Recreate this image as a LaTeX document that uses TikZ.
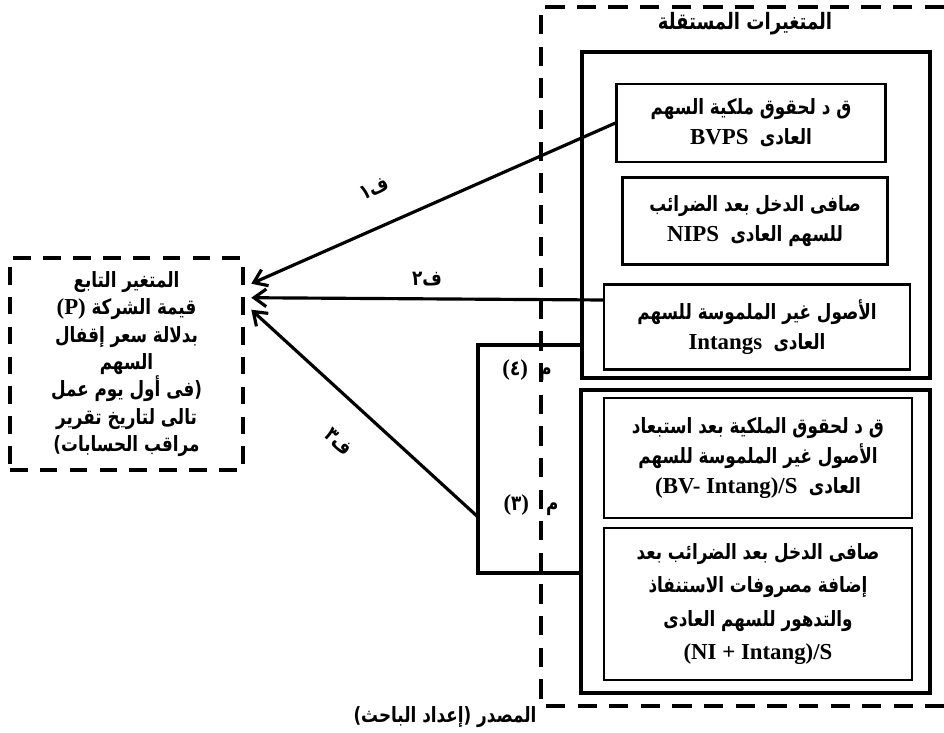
\documentclass[tikz,border=0pt]{standalone}
\usepackage{fontspec}
\setmainfont{Liberation Serif}
\newfontfamily\arabicfont[Script=Arabic, Scale=0.92, FakeStretch=0.8]{DejaVu Sans}
\TeXXeTstate=1
\usetikzlibrary{arrows.meta}
\newcommand{\artxt}[1]{{\arabicfont\beginR #1\endR}}

\begin{document}
\begin{tikzpicture}[
            x=0.02cm, y=-0.02cm,
            every node/.style={font=\bfseries\fontsize{13}{17}\selectfont},
            var box/.style={draw, line width=1.2pt, align=center, inner sep=0pt},
            group box/.style={draw, line width=2.2pt, inner sep=0pt},
            dep box/.style={draw, line width=2.6pt, dash pattern=on 10pt off 7pt, align=center,
                            inner sep=0pt, font=\bfseries\fontsize{13}{15.6}\selectfont},
            frame line/.style={line width=2.6pt, dash pattern=on 11pt off 7pt},
            link/.style={line width=1.8pt, -{Straight Barb[length=7pt,width=10pt]}},
            bracket line/.style={line width=1.8pt},
            ]
            \def\px{0.02cm}
            \useasboundingbox (0,0) rectangle (944,733);

            \draw[frame line] (944,7) -- (541,7) -- (541,706) -- (944,706);
            \node (title) at (745,24) {\fontsize{14}{17}\selectfont\artxt{المتغيرات المستقلة}};

            \node[group box, minimum width=348*\px, minimum height=326*\px] (groupA) at (756,215) {};
            \node[group box, minimum width=349*\px, minimum height=303*\px] (groupB) at (755.5,541.5) {};

            \node[var box, minimum width=269*\px, minimum height=78*\px] (bvps) at (751,123)
                {\artxt{ق د لحقوق ملكية السهم}\\ BVPS~~\artxt{العادى}};
            \node[var box, minimum width=265*\px, minimum height=87*\px] (nips) at (755,221)
                {\artxt{صافى الدخل بعد الضرائب}\\ NIPS~~\artxt{للسهم العادى}};
            \node[var box, minimum width=306*\px, minimum height=85*\px] (intangs) at (757,327)
                {\artxt{الأصول غير الملموسة للسهم}\\ Intangs~~\artxt{العادى}};
            \node[var box, minimum width=308*\px, minimum height=120*\px] (bvint) at (758,458)
                {\artxt{ق د لحقوق الملكية بعد استبعاد}\\ \artxt{الأصول غير الملموسة للسهم}\\ (BV- Intang)/S~~\artxt{العادى}};
            \node[var box, minimum width=308*\px, minimum height=152*\px,
                  font=\bfseries\fontsize{13}{19}\selectfont] (niint) at (758,604)
                {\artxt{صافى الدخل بعد الضرائب بعد}\\ \artxt{إضافة مصروفات الاستنفاذ}\\ \artxt{والتدهور للسهم العادى}\\ (NI + Intang)/S};

            \node[dep box, minimum width=233*\px, minimum height=212*\px] (dep) at (126.5,364)
                {\artxt{المتغير التابع}\\ (P)~\artxt{قيمة الشركة}\\ \artxt{بدلالة سعر إقفال}\\ \artxt{السهم}\\
                 \artxt{(فى أول يوم عمل}\\ \artxt{تالى لتاريخ تقرير}\\ \artxt{مراقب الحسابات)}};

            \coordinate (tipA) at ([shift={(6,28)}]dep.north east);
            \coordinate (tipB) at ([shift={(6,42)}]dep.north east);
            \coordinate (tipC) at ([shift={(6,54)}]dep.north east);
            \coordinate (brTop) at (478,345);
            \coordinate (brMid) at (478,517);
            \coordinate (brBot) at (478,573);

            \draw[bracket line] (brTop -| groupA.west) -- (brTop) -- (brBot) -- (brBot -| groupB.west);
            \node (mFour) at (527,370) {(\artxt{٤})~~\artxt{م}};
            \node (mThree) at (531,505) {(\artxt{٣})~~~\artxt{م}};

            \draw[link] (bvps.west) -- (tipA) node[pos=0.62, sloped, above=13pt] {\artxt{ف١}};
            \draw[link] (intangs.west |- 0,300) -- (tipB) node[pos=0.5, above=3pt] {\artxt{ف٢}};
            \draw[link] (brMid) -- (tipC) node[pos=0.5, sloped, below=14pt] {\artxt{ف٣}};

            \node (source) at (445,717) {\artxt{المصدر (إعداد الباحث)}};
        \end{tikzpicture}
\end{document}
